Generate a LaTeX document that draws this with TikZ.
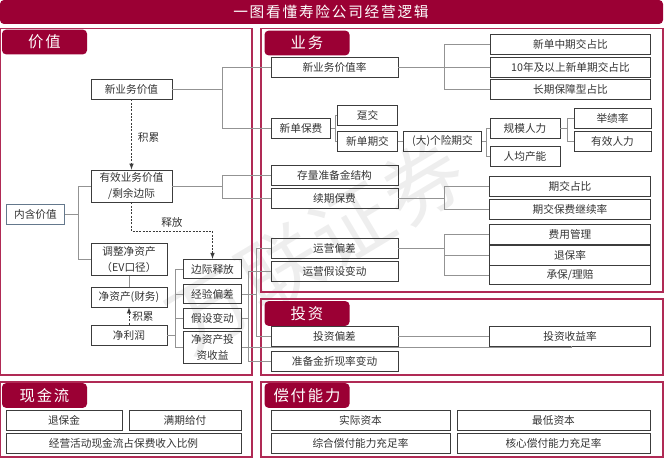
\documentclass[tikz,border=0pt]{standalone}
\usepackage{xcolor}
\usepackage{fontspec}
\setmainfont{Noto Sans CJK SC}
\newfontfamily\headfont[LetterSpace=12]{Noto Sans CJK SC}
\usepackage{tikz}
\usetikzlibrary{calc}
\definecolor{crimson}{HTML}{9B0034}
\definecolor{panelred}{HTML}{B02A55}
\definecolor{boxgray}{HTML}{3C3C3C}
\definecolor{boxslate}{HTML}{64788C}
\definecolor{textgray}{HTML}{333333}
\tikzset{
  panel/.style={draw=panelred,line width=0.95pt},
  tab/.style={fill=crimson,rounded corners=3pt,text=white,inner sep=0pt,
    minimum width=63.75pt,minimum height=18.5pt,font=\headfont\fontsize{11.5}{13}\selectfont},
  bx/.style={draw=boxgray,line width=0.7pt,inner sep=0pt,align=center,text=textgray,
    font=\fontsize{8}{11.5}\selectfont},
  conn/.style={draw=gray!85,line width=0.55pt},
  flow/.style={draw=boxgray,line width=0.55pt,dashed,dash pattern=on 1.5pt off 1pt,-latex},
  lab/.style={inner sep=0pt,text=textgray,font=\fontsize{8}{10}\selectfont},
  s60/.style={bx,minimum width=44.5pt,minimum height=15pt},
  s80/.style={bx,minimum width=57pt,minimum height=15pt},
  s127/.style={bx,minimum width=95.25pt,minimum height=15pt},
  s160/.style={bx,minimum width=120.5pt,minimum height=15pt},
}
\begin{document}
\begin{tikzpicture}[x=0.75pt,y=-0.75pt]
  \useasboundingbox (0,0) rectangle (669,470);
  % watermark
  \node[rotate=31,inner sep=0pt,text=gray!13,font=\fontsize{60}{60}\selectfont] (mark) at (316,246)
    {万\hspace{2pt}联\hspace{2pt}证\hspace{2pt}券};
  % title and panels
  \fill[crimson,rounded corners=3pt] (0,0) rectangle (663,24);
  \node[text=white,inner sep=0pt,font=\headfont\fontsize{11}{13}\selectfont] (title) at (331,12)
    {一图看懂寿险公司经营逻辑};
  \draw[panel] (0.5,28.5) rectangle (252,375);
  \draw[panel] (261,28.5) rectangle (663,292);
  \draw[panel] (261,299) rectangle (663,375);
  \draw[panel] (0.5,382) rectangle (252,457);
  \draw[panel] (261,382) rectangle (663,457);
  \node[tab] (tjz) at (44.5,42) {价值};
  \node[tab] (tyw) at (307,43) {业务};
  \node[tab] (ttz) at (307,313.5) {投资};
  \node[tab] (txj) at (44.5,395.5) {现金流};
  \node[tab] (tcf) at (307,395.5) {偿付能力};
  % value column
  \node[bx,minimum width=60.75pt,minimum height=15pt] (xyw) at (131.5,89) {新业务价值};
  \node[bx,minimum width=60.75pt,minimum height=24pt] (yxyw) at (131.5,186) {有效业务价值\\/剩余边际};
  \node[bx,minimum width=44pt,minimum height=14.5pt,draw=boxslate] (nhjz) at (35.5,214.5) {内含价值};
  \node[bx,minimum width=57pt,minimum height=24.5pt] (tzjz) at (129,259.5) {调整净资产\\（EV口径）};
  \node[s80] (jzc) at (129,297) {净资产(财务)};
  \node[s80] (jlr) at (129,335) {净利润};
  \node[bx,minimum width=43pt,minimum height=14.5pt] (bjsf) at (212.5,269) {边际释放};
  \node[bx,minimum width=43pt,minimum height=14.5pt] (jypc) at (212.5,294) {经验偏差};
  \node[bx,minimum width=43pt,minimum height=14.5pt] (jsbd) at (212.5,318.5) {假设变动};
  \node[bx,minimum width=43pt,minimum height=24.5pt] (jzsy) at (212.5,347.5) {净资产投\\资收益};
  % business column
  \node[s127] (xywl) at (334.5,67) {新业务价值率};
  \node[s60] (xdbf) at (301,128) {新单保费};
  \node[s60] (dj) at (367.5,115) {趸交};
  \node[s60] (xdqj) at (367.5,141) {新单期交};
  \node[bx,minimum width=59pt,minimum height=15pt] (gxqj) at (442.5,141) {(大)个险期交};
  \node[bx,minimum width=52.5pt,minimum height=15.5pt] (gmrl) at (525,128.5) {规模人力};
  \node[bx,minimum width=52.5pt,minimum height=15pt] (rjcn) at (525,156) {人均产能};
  \node[bx,minimum width=57.75pt,minimum height=15pt] (jjl) at (612.5,118) {举绩率};
  \node[bx,minimum width=57.75pt,minimum height=15pt] (yxrl) at (612.5,141) {有效人力};
  \node[s160] (zqzb) at (570.5,44) {新单中期交占比};
  \node[s160] (snzb) at (570.5,67) {10年及以上新单期交占比};
  \node[s160] (cqzb) at (570.5,89) {长期保障型占比};
  \node[s127] (zbjg) at (334.5,175) {存量准备金结构};
  \node[s127] (xqbf) at (334.5,198.5) {续期保费};
  \node[s160] (qjzb) at (570,186.5) {期交占比};
  \node[s160] (jxl) at (570,209) {期交保费继续率};
  \node[s160] (fygl) at (570,234) {费用管理};
  \node[bx,minimum width=120.5pt,minimum height=14.5pt] (tbl) at (570,255.5) {退保率};
  \node[bx,minimum width=120.5pt,minimum height=14.5pt] (cblp) at (570,275) {承保/理赔};
  \node[s127] (yypc) at (334.5,248) {运营偏差};
  \node[s127] (yybd) at (334.5,271.5) {运营假设变动};
  % investment
  \node[s127] (tzpc) at (334.5,336) {投资偏差};
  \node[s160] (tzsy) at (570,336) {投资收益率};
  \node[s127] (zxbd) at (334.5,361) {准备金折现率变动};
  % cash flow and solvency
  \node[bx,minimum width=87pt,minimum height=14.5pt] (tbj) at (64,420.5) {退保金};
  \node[bx,minimum width=84pt,minimum height=14.5pt] (mqgf) at (185,420.5) {满期给付};
  \node[bx,minimum width=176.25pt,minimum height=14.5pt] (jyhd) at (123.5,443.5) {经营活动现金流占保费收入比例};
  \node[bx,minimum width=134.25pt,minimum height=14.5pt] (sjzb) at (360.5,420.5) {实际资本};
  \node[bx,minimum width=144.75pt,minimum height=14.5pt] (zdzb) at (553.5,420.5) {最低资本};
  \node[bx,minimum width=134.25pt,minimum height=14.5pt] (zhcf) at (360.5,443.5) {综合偿付能力充足率};
  \node[bx,minimum width=144.75pt,minimum height=14.5pt] (hxcf) at (553.5,443.5) {核心偿付能力充足率};
  % junctions
  \coordinate (j1) at (222,89);
  \coordinate (j2) at (222,186);
  \coordinate (j3) at (78,214.5);
  \coordinate (j4) at (335,128);
  \coordinate (j5) at (486,141);
  \coordinate (j6) at (567,128.5);
  \coordinate (j7) at (444,67);
  \coordinate (j8) at (444,198.5);
  \coordinate (j9) at (444,248);
  \coordinate (j10) at (175,335);
  \coordinate (j11) at (248,318.5);
  \coordinate (j12) at (256,294);
  \coordinate (j13) at (571,347.5);
  \draw[conn] (xyw.east) -- (j1) (j1) |- (xywl.west) (j1) |- (xdbf.west);
  \draw[conn] (yxyw.east) -- (j2) (j2) |- (zbjg.west) (j2) |- (xqbf.west);
  \draw[conn] (nhjz.east) -- (j3) (j3) |- (yxyw.west) (j3) |- (tzjz.west);
  \draw[conn] (xdbf.east) -- (j4) (j4) |- (dj.west) (j4) |- (xdqj.west);
  \draw[conn] (xdqj.east) -- (gxqj.west);
  \draw[conn] (gxqj.east) -- (j5) (j5) |- (gmrl.west) (j5) |- (rjcn.west);
  \draw[conn] (gmrl.east) -- (j6) (j6) |- (jjl.west) (j6) |- (yxrl.west);
  \draw[conn] (xywl.east) -- (j7) (j7) |- (zqzb.west) (j7) -- (snzb.west) (j7) |- (cqzb.west);
  \draw[conn] (xqbf.east) -- (j8) (j8) |- (qjzb.west) (j8) |- (jxl.west);
  \draw[conn] (yypc.east) -- (j9) (j9) |- (fygl.west) (j9) |- (tbl.west) (j9) |- (cblp.west);
  \draw[conn] (tzjz.south) -- (jzc.north);
  \draw[conn] (jlr.east) -- (j10) (j10) |- (bjsf.west) (j10) |- (jypc.west) (j10) |- (jsbd.west) (j10) |- (jzsy.west);
  \draw[conn] (jsbd.east) -- (j11) (j11) |- (yybd.west) (j11) |- (zxbd.west);
  \draw[conn] (jypc.east) -- (j12) (j12) |- (yypc.west) (j12) |- (tzpc.west);
  \draw[conn] (tzpc.east) -- (tzsy.west);
  \draw[conn] (jzsy.east |- j13) -- (j13) -- (j13 |- tzsy.south);
  \draw[flow] (xyw.south) -- (yxyw.north);
  \draw[flow] (yxyw.south) -- ++(0,29) -| (bjsf.north);
  \draw[flow] (jlr.north) -- (jzc.south);
  \node[lab] (lj1) at (148.5,138) {积累};
  \node[lab] (lsf) at (172,222) {释放};
  \node[lab] (lj2) at (143,317) {积累};
\end{tikzpicture}
\end{document}
